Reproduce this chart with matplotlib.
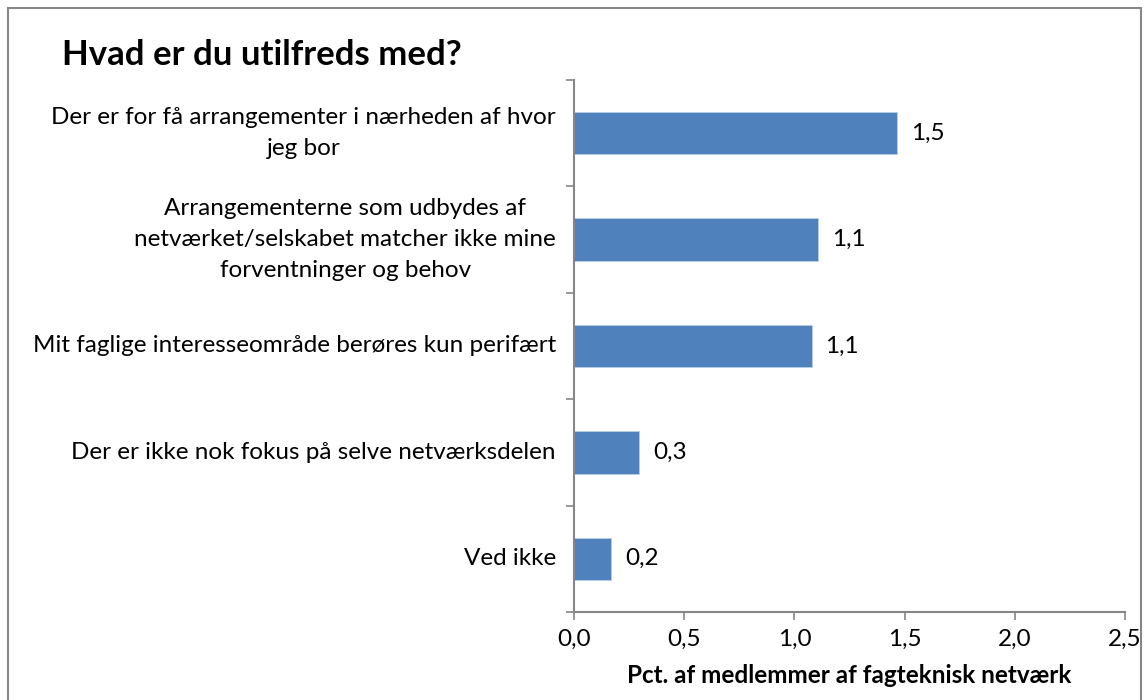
import matplotlib
matplotlib.use("Agg")
import matplotlib.pyplot as plt
from matplotlib.patches import Rectangle

plt.rcParams['font.family'] = ['Lato', 'DejaVu Sans']

# data, top to bottom
categories = [
    "Der er for få arrangementer i nærheden af hvor\njeg bor",
    "Arrangementerne som udbydes af\nnetværket/selskabet matcher ikke mine\nforventninger og behov",
    "Mit faglige interesseområde berøres kun perifært",
    "Der er ikke nok fokus på selve netværksdelen",
    "Ved ikke",
]
values = [1.464, 1.107, 1.078, 0.296, 0.168]
value_labels = ["1,5", "1,1", "1,1", "0,3", "0,2"]
xticks = [0.0, 0.5, 1.0, 1.5, 2.0, 2.5]
xtick_labels = ["0,0", "0,5", "1,0", "1,5", "2,0", "2,5"]

bar_color = "#4f81bd"
axis_gray = "#868686"

fig = plt.figure(figsize=(11.44, 7.0), dpi=100)
fig.patches.append(Rectangle((8/1144, -0.05), 1133/1144, 1.05 - 8/700,
                             transform=fig.transFigure, fill=False,
                             edgecolor=axis_gray, linewidth=1.5))

ax = fig.add_axes([574/1144, 1 - 612/700, 551/1144, 532/700])

n = len(categories)
ypos = [n - 1 - i for i in range(n)]
ax.barh(ypos, values, height=0.4, color=bar_color, edgecolor="#b9cde5", linewidth=0.6)

ax.set_xlim(0, 2.5)
ax.set_ylim(-0.5, n - 0.5)

for y, v, lab in zip(ypos, values, value_labels):
    ax.annotate(lab, (v, y), xytext=(10, 0), textcoords="offset points",
                ha="left", va="center", fontsize=17.5, color="black")

ax.set_xticks(xticks)
ax.set_xticklabels(xtick_labels, fontsize=17.5)
ax.set_yticks([i - 0.5 for i in range(n + 1)])
ax.set_yticklabels([])
ax.tick_params(axis="both", direction="out", length=6, color=axis_gray, width=1.2)
ax.tick_params(axis="x", pad=6)

for y, cat in zip(ypos, categories):
    ax.annotate(cat, (0, y), xytext=(-13, 0), textcoords="offset points",
                ha="right", va="center", multialignment="center",
                fontsize=17.5, linespacing=1.6)

for s in ["top", "right"]:
    ax.spines[s].set_visible(False)
for s in ["left", "bottom"]:
    ax.spines[s].set_color(axis_gray)
    ax.spines[s].set_linewidth(1.5)

ax.set_xlabel("Pct. af medlemmer af fagteknisk netværk", fontsize=17.5,
              fontweight="bold", labelpad=10)

fig.text(62/1144, 1 - 55/700, "Hvad er du utilfreds med?", fontsize=25,
         fontweight="bold", ha="left", va="center")

fig.savefig("out.png", dpi=100)
